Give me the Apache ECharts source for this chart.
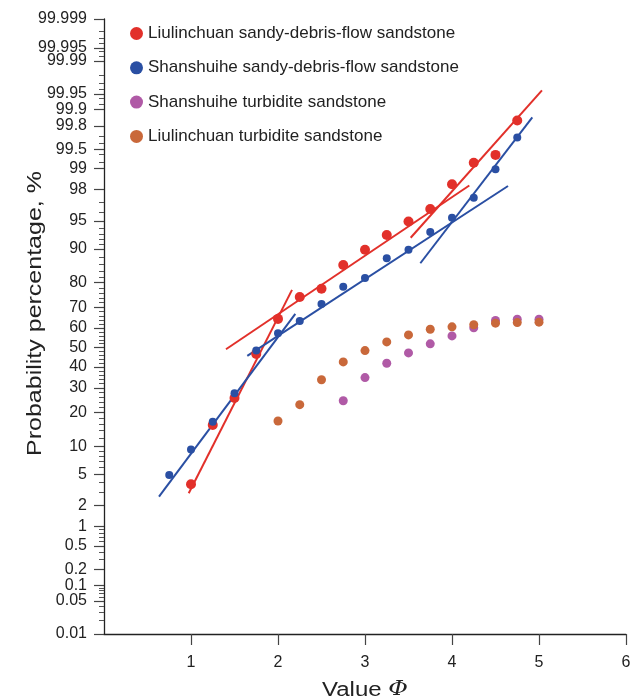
<!DOCTYPE html>
<html>
<head>
<meta charset="utf-8">
<script src="https://cdn.jsdelivr.net/npm/echarts@6/dist/echarts.min.js"></script>
<style>html,body{margin:0;padding:0;background:#fff}#c{width:630px;height:700px}</style>
</head>
<body>
<div id="c"></div>
<script>
// ---- data (percent values) ----
var seriesNames = [
  'Liulinchuan sandy-debris-flow sandstone',
  'Shanshuihe sandy-debris-flow sandstone',
  'Shanshuihe turbidite sandstone',
  'Liulinchuan turbidite sandstone'
];
var colors = ['#e2302a', '#2a4fa3', '#b05aa6', '#c9683a'];

var liuDebrisX = [1, 1.25, 1.5, 1.75, 2, 2.25, 2.5, 2.75, 3, 3.25, 3.5, 3.75, 4, 4.25, 4.5, 4.75];
var liuDebrisP = [3.8, 15.7, 25.6, 46.7, 64.5, 74.4, 77.7, 85.8, 89.8, 92.8, 94.9, 96.4, 98.3, 99.18, 99.38, 99.84];

var shanDebrisX = [0.75, 1, 1.25, 1.5, 1.75, 2, 2.25, 2.5, 2.75, 3, 3.25, 3.5, 3.75, 4, 4.25, 4.5, 4.75];
var shanDebrisP = [4.9, 9.3, 16.8, 27.6, 48.5, 57.4, 63.5, 71.4, 78.5, 81.7, 87.7, 89.8, 93.3, 95.4, 97.4, 98.97, 99.68];

var shanTurbX = [2.75, 3, 3.25, 3.5, 3.75, 4, 4.25, 4.5, 4.75, 5];
var shanTurbP = [24.5, 34.8, 41.9, 47.2, 51.9, 56.0, 60.1, 63.7, 64.3, 64.3];

var liuTurbX = [2, 2.25, 2.5, 2.75, 3, 3.25, 3.5, 3.75, 4, 4.25, 4.5, 4.75, 5];
var liuTurbP = [17.0, 22.9, 33.8, 42.6, 48.4, 52.9, 56.5, 59.4, 60.6, 61.6, 62.4, 62.7, 62.9];

// fitted segments: [x1, p1, x2, p2]
var liuFitLines = [
  [0.974, 2.92, 2.161, 77.3],
  [1.402, 49.1, 4.199, 98.23],
  [3.525, 92.3, 5.034, 99.958]
];
var shanFitLines = [
  [0.632, 2.64, 2.199, 66.9],
  [1.647, 45.7, 4.644, 98.2],
  [3.636, 86.3, 4.923, 99.86]
];

var yTickLabels = [0.01, 0.05, 0.1, 0.2, 0.5, 1, 2, 5, 10, 20, 30, 40, 50, 60, 70, 80, 90, 95, 98, 99, 99.5, 99.8, 99.9, 99.95, 99.99, 99.995, 99.999];
var yMinorTicks = [0.02, 0.03, 0.04, 0.06, 0.07, 0.08, 0.09, 0.3, 0.4, 0.6, 0.7, 0.8, 0.9, 3, 4, 6, 7, 8, 9,
  12, 14, 16, 18, 22, 24, 26, 28, 32, 34, 36, 38, 42, 44, 46, 48, 52, 54, 56, 58, 62, 64, 66, 68, 72, 74, 76, 78, 82, 84, 86, 88,
  91, 92, 93, 94, 96, 97, 99.2, 99.4, 99.6, 99.7, 99.92, 99.94, 99.96, 99.97, 99.98, 99.992, 99.994, 99.996, 99.997, 99.998];
var xTicks = [0, 1, 2, 3, 4, 5, 6];

// ---- probability (normal quantile) scale ----
function probit(p) {
  var a = [-3.969683028665376e+01, 2.209460984245205e+02, -2.759285104469687e+02, 1.383577518672690e+02, -3.066479806614716e+01, 2.506628277459239e+00];
  var b = [-5.447609879822406e+01, 1.615858368580409e+02, -1.556989798598866e+02, 6.680131188771972e+01, -1.328068155288572e+01];
  var c = [-7.784894002430293e-03, -3.223964580411365e-01, -2.400758277161838e+00, -2.549732539343734e+00, 4.374664141464968e+00, 2.938163982698783e+00];
  var d = [7.784695709041462e-03, 3.224671290700398e-01, 2.445134137142996e+00, 3.754408661907416e+00];
  var pl = 0.02425, q, r;
  if (p < pl) {
    q = Math.sqrt(-2 * Math.log(p));
    return (((((c[0]*q+c[1])*q+c[2])*q+c[3])*q+c[4])*q+c[5]) / ((((d[0]*q+d[1])*q+d[2])*q+d[3])*q+1);
  } else if (p <= 1 - pl) {
    q = p - 0.5; r = q*q;
    return (((((a[0]*r+a[1])*r+a[2])*r+a[3])*r+a[4])*r+a[5])*q / (((((b[0]*r+b[1])*r+b[2])*r+b[3])*r+b[4])*r+1);
  } else {
    q = Math.sqrt(-2 * Math.log(1 - p));
    return -(((((c[0]*q+c[1])*q+c[2])*q+c[3])*q+c[4])*q+c[5]) / ((((d[0]*q+d[1])*q+d[2])*q+d[3])*q+1);
  }
}
function z(pct) { return probit(pct / 100); }

var yMin = z(yTickLabels[0]);
var yMax = z(yTickLabels[yTickLabels.length - 1]);
var yMajorVals = yTickLabels.map(z);
var yMinorVals = yMinorTicks.map(z);

function pts(xs, ps) { return xs.map(function (x, i) { return [x, z(ps[i])]; }); }

var series = [];
var pointSets = [[liuDebrisX, liuDebrisP, 10], [shanDebrisX, shanDebrisP, 8], [shanTurbX, shanTurbP, 9], [liuTurbX, liuTurbP, 9]];
pointSets.forEach(function (s, i) {
  series.push({
    name: seriesNames[i], type: 'scatter', symbol: 'circle', symbolSize: s[2],
    itemStyle: { color: colors[i], opacity: 1 }, data: pts(s[0], s[1]), z: 3
  });
});
function addLines(list, color) {
  list.forEach(function (L) {
    series.push({
      type: 'line', silent: true, showSymbol: false, symbol: 'none',
      lineStyle: { color: color, width: 2 }, z: 2,
      data: [[L[0], z(L[1])], [L[2], z(L[3])]]
    });
  });
}
addLines(liuFitLines, colors[0]);
addLines(shanFitLines, colors[1]);

function labelFor(v) {
  var best = 0, bd = Infinity;
  for (var i = 0; i < yMajorVals.length; i++) {
    var dd = Math.abs(yMajorVals[i] - v);
    if (dd < bd) { bd = dd; best = i; }
  }
  return String(yTickLabels[best]);
}

var FONT = 'Liberation Sans, Arial, sans-serif';
var chart = echarts.init(document.getElementById('c'), null, { renderer: 'canvas' });
chart.setOption({
  animation: false,
  backgroundColor: '#fff',
  textStyle: { fontFamily: FONT },
  grid: { left: 104, right: 4, top: 19, bottom: 66, containLabel: false, outerBoundsMode: 'none' },
  legend: {
    data: seriesNames, orient: 'vertical', left: 125, top: 20,
    itemWidth: 13, itemHeight: 13, itemGap: 17.3, icon: 'circle',
    textStyle: { fontSize: 17, lineHeight: 17, color: '#222', fontFamily: FONT }
  },
  xAxis: {
    type: 'value', min: 0, max: 6, interval: 1,
    axisLine: { show: true, onZero: false, lineStyle: { color: '#222', width: 1.3 } },
    axisTick: { show: true, inside: false, length: 11, lineStyle: { color: '#444', width: 1.2 } },
    axisLabel: { margin: 21, fontSize: 16, color: '#222', showMinLabel: false,
      formatter: function (v) { return v === 0 ? '' : String(v); } },
    splitLine: { show: false }
  },
  yAxis: [{
    type: 'value', min: yMin, max: yMax, position: 'left',
    axisLine: { show: true, onZero: false, lineStyle: { color: '#222', width: 1.3 } },
    axisTick: { show: true, inside: false, length: 10, customValues: yMajorVals, lineStyle: { color: '#444', width: 1.2 } },
    axisLabel: { margin: 17, fontSize: 16, color: '#222', customValues: yMajorVals, formatter: labelFor },
    splitLine: { show: false }
  }, {
    type: 'value', min: yMin, max: yMax, position: 'left',
    axisLine: { show: false },
    axisTick: { show: true, inside: false, length: 5, customValues: yMinorVals, lineStyle: { color: '#555', width: 1 } },
    axisLabel: { show: false, customValues: yMinorVals },
    splitLine: { show: false }
  }],
  graphic: [{
    type: 'text', x: 35, y: 313.5, rotation: Math.PI / 2, scaleX: 1.25, scaleY: 1,
    style: { text: 'Probability percentage, %', fontSize: 20, fill: '#222', fontFamily: FONT, align: 'center', verticalAlign: 'middle' }
  }, {
    type: 'text', x: 365, y: 690, scaleX: 1.2, scaleY: 1,
    style: {
      text: '{a|Value }{b|Φ}', align: 'center', verticalAlign: 'middle',
      rich: { a: { fontSize: 20, fill: '#222', fontFamily: FONT }, b: { fontSize: 20, fill: '#222', fontStyle: 'italic', fontFamily: 'DejaVu Serif, serif' } }
    }
  }],
  series: series
});
</script>
</body>
</html>
